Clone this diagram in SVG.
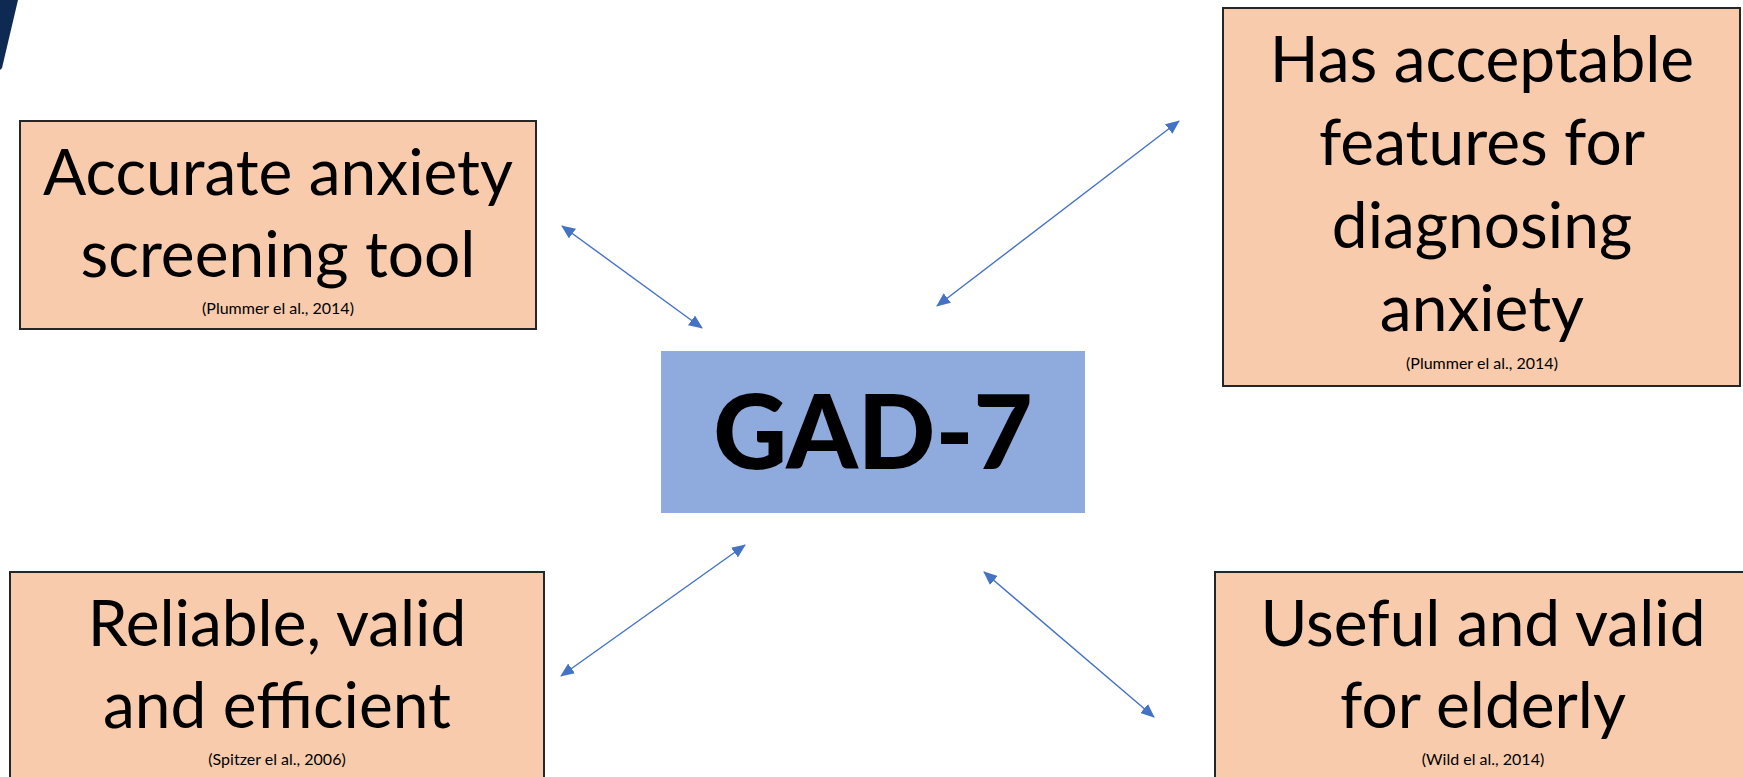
<svg xmlns="http://www.w3.org/2000/svg" width="1743" height="777" viewBox="0 0 1743 777">
  <defs>
    <marker id="ah" viewBox="0 0 14 12" refX="13" refY="6" markerWidth="14" markerHeight="12" markerUnits="userSpaceOnUse" orient="auto-start-reverse">
      <path d="M0,0 L14,6 L0,12 z" fill="#4472C4"/>
    </marker>
    <style>
      .box { fill: #F8CBAD; stroke: #262626; stroke-width: 2; }
      .big { font-family: Lato, "Liberation Sans", sans-serif; font-size: 64px; fill: #000; text-anchor: middle; }
      .cite { font-family: Lato, "Liberation Sans", sans-serif; font-size: 16px; fill: #000; text-anchor: middle; }
      .conn { stroke: #4472C4; stroke-width: 1.4; fill: none; marker-start: url(#ah); marker-end: url(#ah); }
    </style>
  </defs>
  <rect width="1743" height="777" fill="#FFFFFF"/>
  <polygon points="0,0 18,0 2,68 0,70" fill="#0E2A52"/>

  <g id="connectors">
    <line class="conn" x1="562" y1="226" x2="702" y2="328"/>
    <line class="conn" x1="1179" y1="121" x2="937" y2="306"/>
    <line class="conn" x1="745" y1="545" x2="561" y2="676"/>
    <line class="conn" x1="984" y1="572" x2="1154" y2="717"/>
  </g>

  <g id="node-gad7">
    <rect x="661" y="351" width="424" height="162" fill="#8FAADC"/>
    <text x="873" y="469" font-family="Lato, 'Liberation Sans', sans-serif" font-weight="900" font-size="102" text-anchor="middle" fill="#000">GAD-7</text>
  </g>

  <g id="node-accurate">
    <rect class="box" x="20" y="121" width="516" height="208"/>
    <text class="big" x="278" y="195">Accurate anxiety</text>
    <text class="big" x="278" y="277">screening tool</text>
    <text class="cite" x="278" y="314">(Plummer el al., 2014)</text>
  </g>

  <g id="node-acceptable">
    <rect class="box" x="1223" y="8" width="517" height="378"/>
    <text class="big" x="1482" y="82">Has acceptable</text>
    <text class="big" x="1482" y="165">features for</text>
    <text class="big" x="1482" y="248">diagnosing</text>
    <text class="big" x="1482" y="331">anxiety</text>
    <text class="cite" x="1482" y="369">(Plummer el al., 2014)</text>
  </g>

  <g id="node-reliable">
    <rect class="box" x="10" y="572" width="534" height="230"/>
    <text class="big" x="277" y="646">Reliable, valid</text>
    <text class="big" x="277" y="728">and efficient</text>
    <text class="cite" x="277" y="765">(Spitzer el al., 2006)</text>
  </g>

  <g id="node-useful">
    <rect class="box" x="1215" y="572" width="536" height="230"/>
    <text class="big" x="1483" y="646">Useful and valid</text>
    <text class="big" x="1483" y="728">for elderly</text>
    <text class="cite" x="1483" y="765">(Wild el al., 2014)</text>
  </g>
</svg>
